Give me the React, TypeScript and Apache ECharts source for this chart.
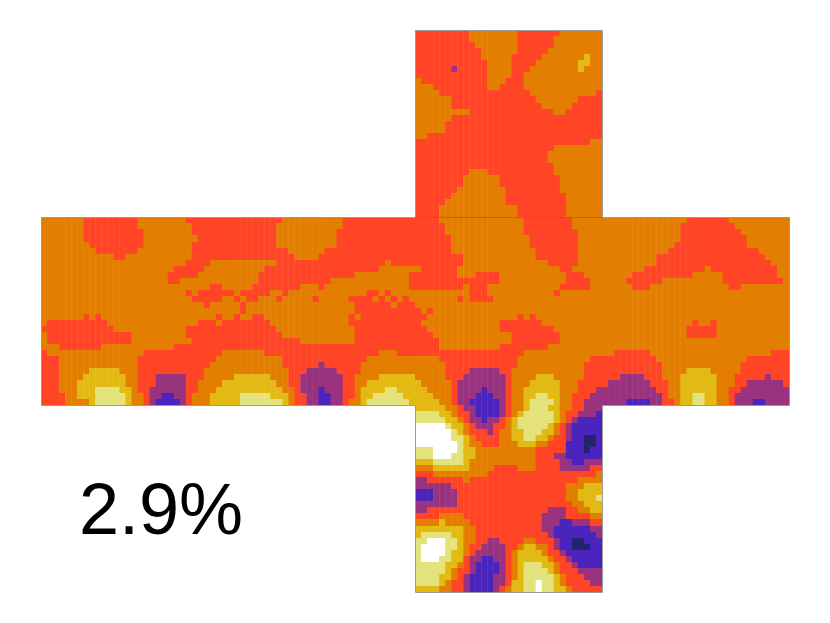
import React, { useEffect, useRef } from "react";
import * as echarts from "echarts";

const CELLS = 31;
const LEVELS = ["n", "b", "p", "r", "o", "y", "l", "w"];
const COLORS = ["#24246E", "#4B24BE", "#99327F", "#FF4526", "#E37E00", "#E3BA14", "#E4E27A", "#FFFFFF"];
const LABEL = "2.9%";

// Every row lists runs of cells, "<level><from>-<to>", over the base level of its face.
const topBase = "r";
const topFace = [
  "o9-16 o24-30", "o9-16 o23-30", "o10-16 o23-30", "o11-16 o22-30", "o11-15 o21-30 y28",
  "o12-15 o20-30 y27-28", "o12-15 p6 o19-30 y27", "o12-15 o18-30", "o0 o12-14 o18-30", "o0-2 o12-13 o18-30",
  "o0-3 o19-29", "o0-5 o20-26", "o0-5 o21-25", "o0-8 o23-24", "o0-5",
  "o0-4", "o0-4", "o0-1", "o29-30", "o23-30",
  "o22-30", "o22-30", "o23-30", "o9-11 o23-30", "o8-13 o24-30",
  "o8-13 o24-30", "o7-14 o24-30", "o6-14 o25-30", "o5-14 o25-30", "o4-16 o25-30",
  "o4-16 o25-30",
];

const leftBase = "o";
const leftFace = [
  "r7-15 r24-30", "r7-15 r25-30", "r7-16 r25-30", "r7-16 r26-30", "r8-16 r25-30",
  "r9-15 r25-30", "r12-13 r25-30", "r24-27", "r22-26", "r21-25",
  "r21-22", "r28-29", "r24 r26-30", "r25-29", "r27",
  "", "r7 r9 r29", "r1-10 r26-28 r30", "r0-11 r24-30", "r1-14 r24-30",
  "r1-14 r25-30", "r3-9 r22-30", "r0 r17-29", "r0-2 r16-28", "r0-2 r16-27",
  "r0-2 y8-12 r16-26", "r0-2 y7-13 r16-18 p19-23 r24-26", "r0-2 y6-13 r16-18 p19-23 r24-25 y30",
  "r0-2 y6-14 l9-12 r16-17 p18-23 r24-25 y29-30", "r0-3 y6-14 l9-13 r17 p18-23 b20-21 r24 y28-30",
  "r0-3 y8-14 l9-13 r17 p18-23 b19-22 r24 y28-30",
];

const secondBase = "r";
const secondFace = [
  "o9-18", "o8-18", "o8-17", "o8-17", "o8-17",
  "o10-15", "o11-14", "o0-7 o26", "o0-5 o25-30", "o0-4 o21-29",
  "o0-4 o17-29", "o0-3 o12-14 o16-29", "o1 o7-8 o10-22 o25 o27-30",
  "o0 o2 o5-7 o9-13 o15-19 o24 o26 o28 o30", "o0-1 o3 o4-20 o27",
  "o0-1 o3-20", "o0 o2-3 o6-19 o21", "o7-19", "o8-20", "o9-20",
  "o12-20", "", "o0-5 o25-27", "o0-8 o23-30", "o0-8 p15 o22-30",
  "o0-9 p13-17 o22-30", "o0-9 y1-6 p12-18 o21-30 y25-30", "y0-7 o8-9 p12-18 o21-22 y23-30",
  "y0-8 o9-10 p12-18 b15 o21 y22-30 l26-27", "y0-9 l2-6 o10 p13-18 b15-16 o21 y22-30 l24-28",
  "y0-9 l2-8 o10 p13-18 b15-16 o20-21 y22-30 l23-29",
];

const thirdBase = "o";
const thirdFace = [
  "r0-3 r18-25", "r0-4 r18-25", "r0-4 r18-26", "r0-5 r19-26", "r0-5 r19-26",
  "r0-5 r20-26", "r0-7 r20-26", "r0-7 r22-26", "r1-6 r24-25", "r0-6 r10-13 r25-27",
  "r0-13 r25-28", "r0-7 r9-11 r24-28", "r9-11 r23", "r7 r9-12", "",
  "r0 r2", "r0-1 r17 r19", "r0 r14-20", "r0-1 r14-22", "r0-2 r16-23",
  "r0-3 r16-23", "r0-3 r14-21", "r0-17", "r4-16 r29-30", "r5-16 r28-30",
  "r5-8 p9-13 r14-15 r28-30", "r5-7 p8-14 r15 y20-22 r28-30", "y0 r6 p7-14 r15 y19-23 r27-30",
  "y0-1 r6 p7-14 b11 r15 y18-23 r27-29 p30", "y0-2 r6 p7-14 b10-12 r15 y18-23 l20-21 r26-28 p29-30",
  "y0-3 r6 p7-14 b9-13 r15 y18-23 l19-22 r26-27 p28-30",
];

const fourthBase = "o";
const fourthFace = [
  "r14-20", "r13-21", "r13-22", "r13-23", "r12-23",
  "r11-25", "r9-26", "r9-27", "r7-16 r18-28", "r5-14 r20-28",
  "r4-9 r20-29", "r5-7 r21-22", "", "", "",
  "", "", "r15 r18", "r14-18", "r14-18",
  "", "", "r2-7 r28-30", "r0-8 r24-30", "r0-9 r23-30",
  "r0-9 y14-17 r23-30", "r0-2 p3-6 r7-9 y13-18 r22-26 p27 r28-30", "r0 p1-7 r8-10 y13-18 r22-23 p24-29 r30",
  "p0-8 r9-10 y13-18 r21-22 p23-30", "p0-9 r10 y13-18 l15-16 r21 p22-30", "p0-3 b4-7 p8-9 r10-11 y13-18 l15-16 r21 p22-24 b25-26 p27-30",
];

const bottomBase = "r";
const bottomFace = [
  "y0-4 o5-6 r7 p8-9 b10-13 p14 r15 o16-17 y18 l19-21 y22-23 o24-25 r26-27 p28-30",
  "l0-3 y4-5 o6 r7-8 p9 b10-13 p14 r15 o16 y17 l18-22 y23 o24 r25-26 p27-29 b30",
  "l0-4 y5-6 o7 r8 p9-10 b11 p12-13 r14 o15 y16 l17-22 y23 o24 r25 p26 b27-30",
  "w0-4 l5 y6-7 o8 r9 p10-12 r13-14 o15 y16 l17-21 y22 o23 r24 p25 b26-30",
  "w0-5 l6 y7 o8 r9-11 p12 r13 o14-15 y16-17 l18-20 y21-22 o23 r24 p25 b26-30",
  "w0-5 l6-7 y8 o9 r10-13 o14-15 y16-17 l18-19 y20-21 o22 r23-24 p25 b26-27 n28-29 b30",
  "w0-6 l7 y8 o9-10 r11-13 o14-16 y17-19 o20-21 r22-24 b25-27 n28-29 b30",
  "l0-2 w3-6 l7 y8-9 o10-19 r20-24 b25-27 n28 b29-30",
  "l0-2 w3-5 l6-7 y8-9 o10-19 r20-22 p23-24 b25-30",
  "y0-2 l3-7 y8 o9-19 r20-23 p24-25 b26-27 p28-30",
  "o0-2 y3-8 o9-12 r13-16 o17-19 r20-23 p24-28 r29-30",
  "r0-2 o3-11 r12-29 o30",
  "p0-1 r2-7 o8 r9-26 o27-30",
  "p0-5 r6-24 o25-27 y28-30",
  "b0-2 p3-6 r7-24 o25-26 y27-30",
  "b0-2 p3-6 r7-24 o25-26 y27-29 l30",
  "p0-6 r7-25 o26-27 y28-30",
  "p0-1 r2-21 p22-24 r25-26 o27-28 y29-30",
  "r0-3 o4-7 r8-20 p21-24 r25-28 o29-30",
  "o0-3 y4 o5-8 r9-20 p21-23 b24-25 p26-28 r29-30",
  "y0-7 o8-9 r10-20 p21-22 b23-28 p29-30",
  "y0 l1-5 y6-7 o8-9 r10-21 p22 b23-29 p30",
  "l0-1 w2-4 l5-6 y7 o8-9 r10-11 p12-13 r14-17 o18-19 r20-22 p23 b24-25 n26-27 b28-30",
  "l0 w1-4 l5-6 y7 o8 r9-10 p11-14 r15-16 o17 y18-19 o20-21 r22 p23 b24-25 n26-28 b29-30",
  "l0 w1-4 l5 y6-7 o8 r9 p10-14 r15 o16 y17-20 o21 r22-23 p24 b25-30",
  "l0 w1-3 l4-5 y6-7 r8 p9-10 b11-12 p13-14 r15 o16 y17-21 o22 r23-24 p25 b26-30",
  "l0-4 y5-6 o7 r8 p9 b10-13 p14 r15 o16 y17 l18-20 y21-22 o23 r24-25 p26 b27-30",
  "l0-4 y5 o6 r7-8 p9 b10-13 p14 r15 o16 y17 l18-21 y22 o23 r24-26 p27-30",
  "l0-3 y4-5 o6 r7 p8 b9-12 p13-14 r15 o16 y17 l18-22 y23 o24 r25-27 p28-30",
  "l0-3 y4 o5 r6-7 p8 b9-12 p13-14 r15 y16-17 l18-19 w20 l21-22 y23 o24 r25-28 p29-30",
  "y0-3 o4-5 r6-7 p8 b9-12 p13 r14 o15 y16-17 l18-19 w20 l21-22 y23-24 o25 r26-30",
];

function faceCells(rows: string[], base: string, faceCol: number, faceRow: number) {
  const out: number[][] = [];
  rows.forEach((row, r) => {
    const cells: string[] = new Array(CELLS).fill(base);
    row.split(" ").filter(Boolean).forEach((run) => {
      const m = run.match(/^([a-z])(\d+)(?:-(\d+))?$/);
      if (!m) return;
      const from = Number(m[2]);
      const to = m[3] ? Number(m[3]) : from;
      for (let c = from; c <= to && c < CELLS; c++) cells[c] = m[1];
    });
    cells.forEach((level, c) => {
      out.push([faceCol * CELLS + c, faceRow * CELLS + r, LEVELS.indexOf(level)]);
    });
  });
  return out;
}

export default function App() {
  const ref = useRef<HTMLDivElement>(null);
  useEffect(() => {
    document.body.style.margin = "0";
    const chart = echarts.init(ref.current!, undefined, { renderer: "svg" });
    const data = [
      ...faceCells(topFace, topBase, 2, 0),
      ...faceCells(leftFace, leftBase, 0, 1),
      ...faceCells(secondFace, secondBase, 1, 1),
      ...faceCells(thirdFace, thirdBase, 2, 1),
      ...faceCells(fourthFace, fourthBase, 3, 1),
      ...faceCells(bottomFace, bottomBase, 2, 2),
    ];
    const xs = Array.from({ length: CELLS * 4 }, (_, i) => String(i));
    const ys = Array.from({ length: CELLS * 3 }, (_, i) => String(i));
    const edge = { stroke: "#9a9a9a", lineWidth: 1, fill: "none" };
    chart.setOption({
      animation: false,
      backgroundColor: "#ffffff",
      grid: { left: 41, top: 30, width: 748, height: 562, containLabel: false },
      xAxis: { type: "category", data: xs, show: false },
      yAxis: { type: "category", data: ys, show: false, inverse: true },
      series: [
        {
          type: "custom",
          data,
          encode: { x: 0, y: 1 },
          silent: true,
          progressive: 0,
          renderItem: (_: any, api: any) => {
            const [cx, cy] = api.coord([api.value(0), api.value(1)]);
            const [w, h] = api.size([1, 1]);
            const top = Math.round(cy - h / 2);
            const bottom = Math.round(cy + h / 2);
            return {
              type: "rect",
              shape: { x: cx - w / 2, y: top, width: w + 0.45, height: bottom - top },
              style: { fill: COLORS[api.value(2)] },
            };
          },
        },
      ],
      graphic: [
        {
          type: "polygon",
          silent: true,
          z: 10,
          shape: {
            points: [
              [415.5, 30.5], [602.5, 30.5], [602.5, 217.5], [789.5, 217.5], [789.5, 405.5], [602.5, 405.5],
              [602.5, 592.5], [415.5, 592.5], [415.5, 405.5], [41.5, 405.5], [41.5, 217.5], [415.5, 217.5],
            ],
          },
          style: edge,
        },
        {
          type: "line",
          silent: true,
          z: 10,
          shape: { x1: 415.5, y1: 217.5, x2: 602.5, y2: 217.5 },
          style: { stroke: "rgba(110,110,110,0.7)", lineWidth: 1 },
        },
        {
          type: "text",
          silent: true,
          z: 10,
          x: 79,
          y: 473,
          style: { text: LABEL, font: '72px "Liberation Sans"', fill: "#000000" },
        },
      ],
    });
    return () => chart.dispose();
  }, []);
  return <div ref={ref} style={{ position: "absolute", left: 0, top: 0, width: 830, height: 623 }} />;
}
